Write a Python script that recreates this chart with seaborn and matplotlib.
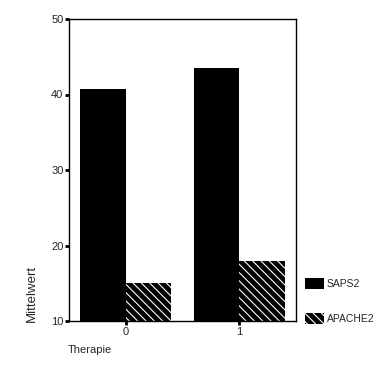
import matplotlib
matplotlib.use("Agg")
import matplotlib.pyplot as plt
import seaborn as sns
import pandas as pd
from matplotlib.patches import Patch

categories = ["0", "1"]
series = ["SAPS2", "APACHE2"]
saps2 = [40.7, 43.5]
apache2 = [15.0, 18.0]
yticks = [10, 20, 30, 40, 50]

df = pd.DataFrame({
    "Therapie": categories * 2,
    "Mittelwert": saps2 + apache2,
    "Serie": [series[0]] * len(categories) + [series[1]] * len(categories),
})

sns.set_style("white")
plt.rcParams["font.family"] = ["Liberation Sans", "DejaVu Sans"]
plt.rcParams["hatch.linewidth"] = 0.8

fig = plt.figure(figsize=(3.8, 3.88), dpi=100)
ax = fig.add_axes([69/380, 1-321/388, (296-69)/380, (321-19)/388])

sns.barplot(data=df, x="Therapie", y="Mittelwert", hue="Serie",
            palette=["black", "black"], saturation=1, width=0.8,
            errorbar=None, ax=ax, legend=False, linewidth=0)

for i, p in enumerate(ax.patches):
    if i >= len(categories):
        p.set_hatch("\\\\\\\\")
        p.set_edgecolor("white")
        p.set_linewidth(0)

ax.set_ylim(10, 50)
ax.set_xlim(-0.5, 1.5)
ax.set_yticks(yticks)
ax.set_yticklabels([str(v) for v in yticks])
ax.set_xlabel("")
ax.set_ylabel("")
for s in ax.spines.values():
    s.set_visible(True)
    s.set_color("black")
    s.set_linewidth(1)
ax.tick_params(axis="both", direction="out", length=3, width=2, color="black",
               labelsize=8, pad=1, left=True, bottom=True)

fig.text(32/380, 1-322/388, "Mittelwert", rotation=90, ha="center", va="bottom", fontsize=9.5)
fig.text(68/380, 1-350/388, "Therapie", ha="left", va="center", fontsize=8)

handles = [Patch(facecolor="black", edgecolor="black", linewidth=0),
           Patch(facecolor="black", edgecolor="white", hatch="\\\\\\\\", linewidth=0)]
ax.legend(handles, series, loc="upper left", bbox_to_anchor=(301/380, 1-274/388),
          bbox_transform=fig.transFigure, frameon=False, fontsize=7.5,
          handlelength=1.8, handleheight=1.2, labelspacing=2.3, handletextpad=0.3,
          borderaxespad=0)

fig.savefig("out.png", dpi=100)
